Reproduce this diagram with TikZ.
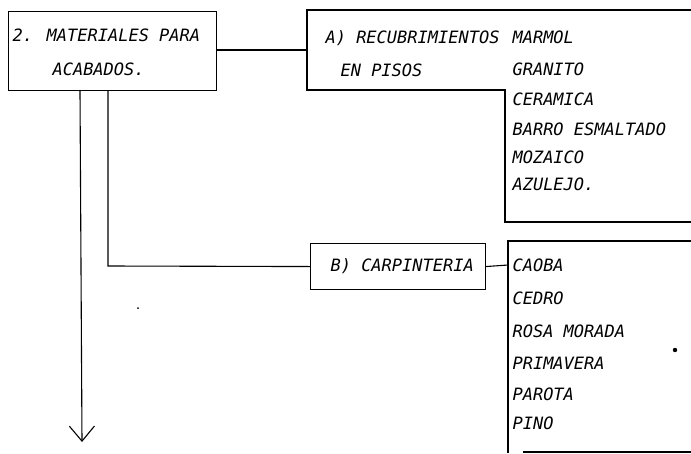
\documentclass[tikz,border=0pt]{standalone}
\usepackage{fontspec}
\newfontfamily\lettering{DejaVu Sans Mono}
\usetikzlibrary{arrows.meta}
\begin{document}
\begin{tikzpicture}[x=1pt,y=-1pt,
  every path/.style={line width=1.1pt},
  lbl/.style={anchor=west,inner sep=0pt,text height=12pt,text depth=0pt,font=\lettering\itshape\fontsize{17}{17}\selectfont},
  boxnode/.style={draw,line width=1.1pt,inner sep=0pt,anchor=north west}]
\useasboundingbox (0,0) rectangle (691,453);
% main box
\node[boxnode,minimum width=208pt,minimum height=79pt] (main) at (8,11) {};
\node[lbl] (t1) at (12,35) {2. MATERIALES PARA};
\node[lbl] (t2) at (52,69) {ACABADOS.};
% A frame
\coordinate (aL) at (307,50);
\draw (691,10) -- (307,10) -- (307,90) -- (505,90) -- (505,222) -- (691,222);
\node[lbl] (a1) at (325,37) {A) RECUBRIMIENTOS};
\node[lbl] (a2) at (340,70) {EN PISOS};
\node[lbl] (m1) at (512,37) {MARMOL};
\node[lbl] (m2) at (512,69) {GRANITO};
\node[lbl] (m3) at (512,99) {CERAMICA};
\node[lbl] (m4) at (512,129) {BARRO ESMALTADO};
\node[lbl] (m5) at (512,157) {MOZAICO};
\node[lbl] (m6) at (512,184) {AZULEJO.};
% B box
\node[boxnode,minimum width=175pt,minimum height=46pt] (B) at (310,243) {};
\node[lbl] (b0) at (330,265) {B) CARPINTERIA};
\coordinate (bL) at (508,265);
\draw (691,241) -- (508,241) -- (508,453);
\draw (523,452) -- (691,452);
\node[lbl] (c1) at (512,265) {CAOBA};
\node[lbl] (c2) at (512,298) {CEDRO};
\node[lbl] (c3) at (512,331) {ROSA MORADA};
\node[lbl] (c4) at (512,363) {PRIMAVERA};
\node[lbl] (c5) at (512,394) {PAROTA};
\node[lbl] (c6) at (512,423) {PINO};
% connectors
\draw (main.east |- aL) -- (aL);
\coordinate (dn) at (82,442);
\draw[-{Straight Barb[length=15pt,width=25pt]}] (main.south -| 80,0) -- (dn);
\draw (main.south -| 108,0) -- (108,266) -- (B.west);
\draw (B.east) -- (bL);
% specks
\fill (138,308) circle (1pt);
\fill (675,350) circle (2.2pt);
\end{tikzpicture}
\end{document}
